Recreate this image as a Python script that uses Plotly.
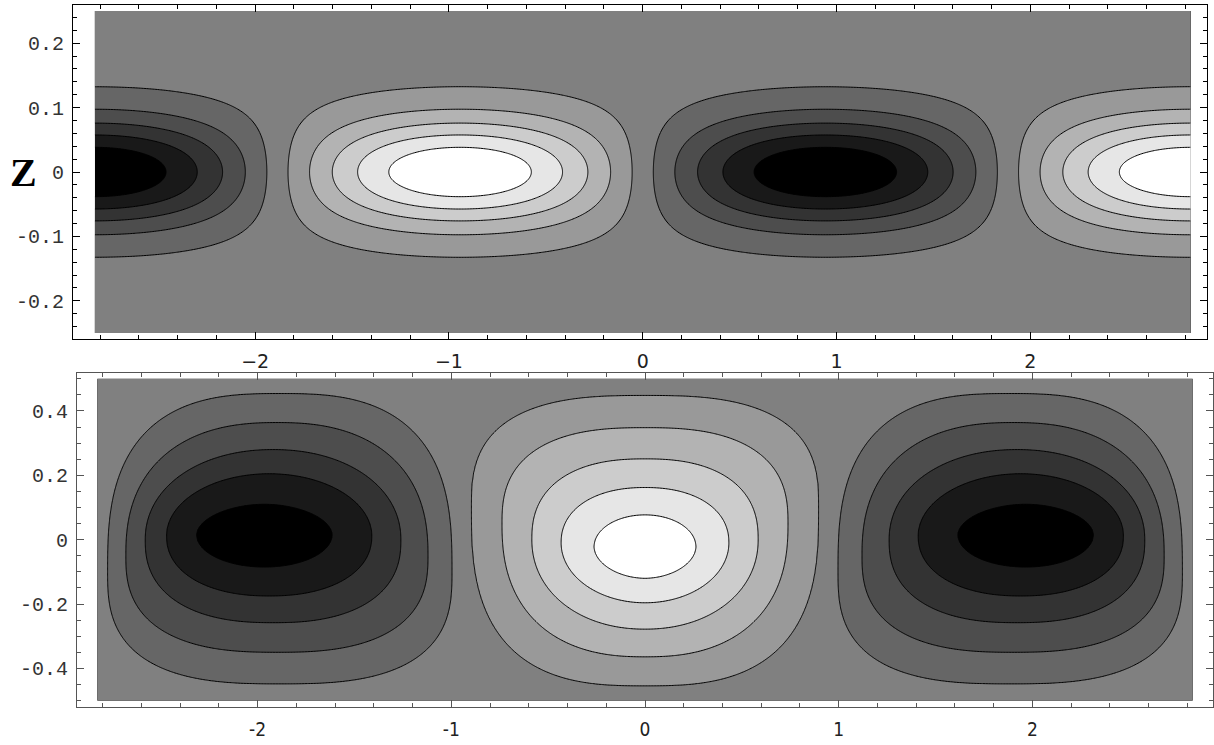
import numpy as np
import plotly.graph_objects as go

W, H = 1214, 745

# ---------------- data ----------------
# contour levels (10 equally spaced levels, Mathematica style), shading 11 grays
levels_pos = [0.0909, 0.2727, 0.4545, 0.6364, 0.8182]

# top panel: x-wave with half period 0.6*pi, gaussian decay in Z
top_x_range = [-0.9 * np.pi, 0.9 * np.pi]
top_z_range = [-0.25, 0.25]
top_wavenumber = 5.0 / 3.0
top_z_width = 0.0855

# bottom panel: measured contour geometry for the lobes (per positive level)
bot_x_range = [-0.9 * np.pi, 0.9 * np.pi]
bot_y_range = [-0.5, 0.5]
# white lobe (max) centred at x=0
white_cx = [0.0, 0.0, 0.0, 0.0, 0.0]
white_halfwidth = [0.897, 0.738, 0.584, 0.433, 0.263]
white_widest_y = [0.10, 0.05, 0.0, -0.01, -0.022]
white_top = [0.448, 0.348, 0.251, 0.162, 0.077]
white_bottom = [-0.454, -0.364, -0.278, -0.196, -0.120]
white_sq_top = [2.8, 2.6, 2.4, 2.2, 2.0]
white_sq_bot = [2.8, 2.4, 2.1, 2.0, 1.9]
# black lobes (min) centred near x=+-1.885
black_cx = [1.885, 1.90, 1.92, 1.94, 1.965]
black_halfwidth = [0.889, 0.78, 0.66, 0.53, 0.35]
black_widest_y = [-0.10, -0.05, 0.0, 0.012, 0.015]
black_top = [0.454, 0.364, 0.280, 0.205, 0.110]
black_bottom = [-0.448, -0.350, -0.258, -0.175, -0.085]
black_sq_top = [2.8, 2.4, 2.1, 2.0, 1.9]
black_sq_bot = [2.8, 2.6, 2.4, 2.2, 2.0]

top_xticks = [-2, -1, 0, 1, 2]
top_xtext = ["\u22122", "\u22121", "0", "1", "2"]
top_yticks = [-0.2, -0.1, 0, 0.1, 0.2]
top_ytext = ["-0.2", "-0.1", "0", "0.1", "0.2"]
bot_xticks = [-2, -1, 0, 1, 2]
bot_xtext = ["-2", "-1", "0", "1", "2"]
bot_yticks = [-0.4, -0.2, 0, 0.2, 0.4]
bot_ytext = ["-0.4", "-0.2", "0", "0.2", "0.4"]

# ---------------- fields ----------------
xt = np.linspace(top_x_range[0], top_x_range[1], 700)
zt = np.linspace(top_z_range[0], top_z_range[1], 320)
XT, ZT = np.meshgrid(xt, zt)
FT = -np.sin(top_wavenumber * XT) * np.exp(-(ZT / top_z_width) ** 2)


def lobe_field(X, Y, cx, hw, yw, top, bot, sqt, sqb, side):
    mid_c = (top[-1] + bot[-1]) / 2
    cn = np.array([0.0] + levels_pos + [1.0])
    cxn = np.array([cx[0]] + cx + [cx[-1]])
    hwn = np.array([0.942] + hw + [0.03])
    ywn = np.array([yw[0]] + yw + [mid_c])
    tn = np.array([0.52] + top + [mid_c + 0.01])
    bn = np.array([-0.52] + bot + [mid_c - 0.01])
    ptn = np.array([sqt[0]] + sqt + [2.0])
    pbn = np.array([sqb[0]] + sqb + [2.0])

    def g(c):
        cxc = np.interp(c, cn, cxn) * side
        hwc = np.interp(c, cn, hwn)
        ywc = np.interp(c, cn, ywn)
        tc = np.interp(c, cn, tn)
        bc = np.interp(c, cn, bn)
        up = Y >= ywc
        t = np.where(up, (Y - ywc) / (tc - ywc), (ywc - Y) / (ywc - bc))
        pc = np.where(up, np.interp(c, cn, ptn), np.interp(c, cn, pbn))
        return (np.abs(X - cxc) / hwc) ** pc + np.abs(t) ** pc

    lo = np.zeros_like(X)
    hi = np.ones_like(X)
    for _ in range(36):
        mid = (lo + hi) / 2
        inside = g(mid) <= 1
        lo = np.where(inside, mid, lo)
        hi = np.where(inside, hi, mid)
    out = g(np.zeros_like(X)) > 1
    lo[out] = 0.0
    return lo


xb = np.linspace(bot_x_range[0], bot_x_range[1], 720)
yb = np.linspace(bot_y_range[0], bot_y_range[1], 380)
XB, YB = np.meshgrid(xb, yb)
FB = lobe_field(XB, YB, white_cx, white_halfwidth, white_widest_y, white_top,
                white_bottom, white_sq_top, white_sq_bot, 1)
for s in (1, -1):
    FB = FB - lobe_field(XB, YB, black_cx, black_halfwidth, black_widest_y,
                         black_top, black_bottom, black_sq_top, black_sq_bot, s)

contours = dict(start=-levels_pos[-1], end=levels_pos[-1],
                size=levels_pos[1] - levels_pos[0], coloring="fill")
gray = [[0, "rgb(0,0,0)"], [1, "rgb(255,255,255)"]]

fig = go.Figure()
fig.add_trace(go.Contour(x=xt, y=zt, z=FT, contours=contours, colorscale=gray,
                         showscale=False, line=dict(color="black", width=1),
                         xaxis="x", yaxis="y", hoverinfo="skip"))
fig.add_trace(go.Contour(x=xb, y=yb, z=FB, contours=contours, colorscale=gray,
                         showscale=False, line=dict(color="black", width=1),
                         xaxis="x2", yaxis="y2", hoverinfo="skip"))


def px_dom(a, b, total):
    return [a / total, b / total]


mono = "Liberation Mono, Courier New, monospace"
common = dict(showgrid=False, zeroline=False, showline=True, mirror="allticks",
              ticks="inside", ticklen=7, tickwidth=1)

fig.update_layout(
    width=W, height=H,
    margin=dict(l=0, r=0, t=0, b=0, pad=0, autoexpand=False),
    paper_bgcolor="white", plot_bgcolor="white", showlegend=False,
    xaxis=dict(domain=px_dom(73, 1207, W), range=[-2.940, 2.912], anchor="y",
               linecolor="black", tickcolor="black",
               tickvals=top_xticks, ticktext=top_xtext, ticklabelstandoff=5,
               tickfont=dict(family="DejaVu Sans, sans-serif", size=19, color="#222"),
               minor=dict(dtick=0.2, tick0=0, ticks="inside", ticklen=4,
                          tickcolor="black"),
               **common),
    yaxis=dict(domain=[1 - 339 / H, 1 - 5 / H], range=[-0.2593, 0.2593], anchor="x",
               linecolor="black", tickcolor="black",
               tickvals=top_yticks, ticktext=top_ytext, ticklabelstandoff=4,
               tickfont=dict(family=mono, size=20, color="#333"),
               minor=dict(dtick=0.02, tick0=0, ticks="inside", ticklen=4,
                          tickcolor="black"),
               **common),
    xaxis2=dict(domain=px_dom(77, 1213, W), range=[-2.932, 2.932], anchor="y2",
                linecolor="#555", tickcolor="#555",
                tickvals=bot_xticks, ticktext=bot_xtext, ticklabelstandoff=5,
                tickfont=dict(family="Liberation Sans Narrow, DejaVu Sans Condensed, sans-serif",
                              size=19, color="#222"),
                minor=dict(dtick=0.2, tick0=0, ticks="inside", ticklen=4,
                           tickcolor="#555"),
                **common),
    yaxis2=dict(domain=[1 - 707 / H, 1 - 373 / H], range=[-0.520, 0.518], anchor="x2",
                linecolor="#555", tickcolor="#555",
                tickvals=bot_yticks, ticktext=bot_ytext, ticklabelstandoff=4,
                tickfont=dict(family=mono, size=20, color="#333"),
                minor=dict(dtick=0.05, tick0=0, ticks="inside", ticklen=4,
                           tickcolor="#555"),
                **common),
    annotations=[dict(text="<b>Z</b>", x=23.5 / W, y=1 - 172 / H, xref="paper",
                      yref="paper", showarrow=False, xanchor="center",
                      yanchor="middle",
                      font=dict(family="Liberation Serif, Times New Roman, serif",
                                size=40, color="black"))],
)

fig.write_html("out.html", config={"displayModeBar": False},
               post_script="document.body.style.margin='0px';"
                           "document.body.style.overflow='hidden';")
